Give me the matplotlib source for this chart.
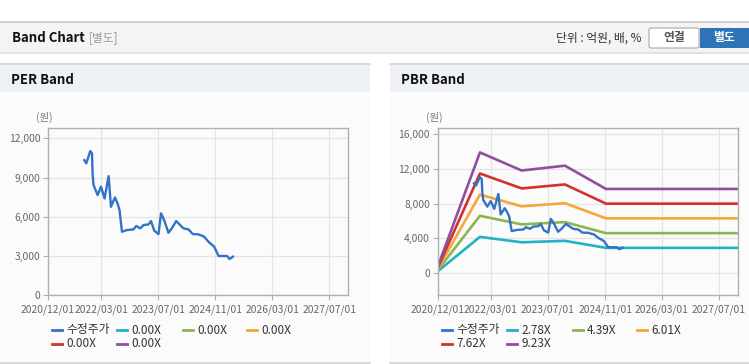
import pandas as pd
import matplotlib
matplotlib.use("Agg")
import matplotlib.pyplot as plt
from matplotlib.patches import Rectangle, FancyBboxPatch
from matplotlib.lines import Line2D

plt.rcParams['font.family'] = ['Noto Sans CJK KR', 'DejaVu Sans']

# ---- data ----
price_dates = ["2021-10-07", "2021-10-24", "2021-11-27", "2021-12-12", "2021-12-17", "2021-12-25",
               "2022-01-29", "2022-02-27", "2022-03-29", "2022-05-03", "2022-05-23", "2022-06-26",
               "2022-07-18", "2022-08-04", "2022-08-25", "2022-10-07", "2022-12-02", "2022-12-25",
               "2023-01-28", "2023-02-25", "2023-04-09", "2023-04-30", "2023-05-28", "2023-07-03",
               "2023-07-25", "2023-08-20", "2023-09-26", "2023-10-25", "2023-12-01", "2024-02-01",
               "2024-03-15", "2024-04-21", "2024-06-08", "2024-07-27", "2024-09-02", "2024-10-21",
               "2024-11-27", "2025-02-07", "2025-03-01", "2025-03-30"]
prices = [10340, 10090, 11030, 10850, 9320, 8430, 7660, 8300, 7400, 9110, 6760, 7480,
          7020, 6510, 4850, 4980, 5030, 5290, 5110, 5360, 5410, 5670, 4930, 4670,
          6260, 5750, 4770, 5110, 5670, 5110, 5030, 4670, 4650, 4470, 4080, 3700,
          2990, 2990, 2760, 2940]

band_dates = ["2020-12-01", "2021-11-27", "2022-11-18", "2023-11-23", "2024-11-08", "2027-12-08"]
band_278 = [222, 4184, 3558, 3725, 2919, 2919]
band_439 = [351, 6607, 5619, 5883, 4610, 4610]
band_601 = [481, 9045, 7693, 8053, 6311, 6311]
band_762 = [610, 11468, 9754, 10211, 8001, 8001]
band_923 = [738, 13891, 11814, 12368, 9692, 9692]

per_labels = ["수정주가", "0.00X", "0.00X", "0.00X", "0.00X", "0.00X"]
pbr_labels = ["수정주가", "2.78X", "4.39X", "6.01X", "7.62X", "9.23X"]
colors = ["#3273c8", "#1fb3c4", "#8db552", "#f5a73a", "#d2312e", "#904f9e"]

tick_dates = ["2020-12-01", "2022-03-01", "2023-07-01", "2024-11-01", "2026-03-01", "2027-07-01"]
tick_labels = ["2020/12/01", "2022/03/01", "2023/07/01", "2024/11/01", "2026/03/01", "2027/07/01"]

W, H = 749, 364
fig = plt.figure(figsize=(W / 100, H / 100), dpi=100)
fig.patch.set_facecolor("white")


def fx(x):
    return x / W


def fy(y):
    return 1 - y / H


def rect(x0, y0, x1, y1, **kw):
    fig.add_artist(Rectangle((fx(x0), fy(y1)), (x1 - x0) / W, (y1 - y0) / H,
                             transform=fig.transFigure, zorder=-2, **kw))


def hline(x0, x1, y, color, lw=1):
    fig.add_artist(Line2D([fx(x0), fx(x1)], [fy(y), fy(y)], transform=fig.transFigure,
                          color=color, lw=lw, zorder=-1))


# top header
rect(0, 22, W, 52, facecolor="#f4f4f4", edgecolor="none")
hline(0, W, 22, "#c8c8c8", 1.2)
hline(0, W, 52.5, "#dcdcdc", 1.2)
fig.text(fx(12), fy(38), "Band Chart", fontsize=9.5, fontweight="bold", color="#111", va="center")
fig.text(fx(89), fy(38), "[별도]", fontsize=8.5, color="#999", va="center")
fig.text(fx(642), fy(38), "단위 : 억원, 배, %", fontsize=8.5, color="#333", va="center", ha="right")
fig.add_artist(FancyBboxPatch((fx(649), fy(48)), 50 / W, 20 / H, boxstyle="round,pad=0,rounding_size=0.004",
                              transform=fig.transFigure, facecolor="white", edgecolor="#aaaaaa", lw=0.8))
fig.text(fx(674), fy(38), "연결", fontsize=8.5, color="#555", fontweight="bold", ha="center", va="center")
rect(700, 28, 749, 48, facecolor="#2f74b6", edgecolor="none")
fig.text(fx(724), fy(38), "별도", fontsize=8.5, color="white", fontweight="bold", ha="center", va="center")

# panels
panels = [(0, 370, "PER Band"), (390, W, "PBR Band")]
for x0, x1, name in panels:
    rect(x0, 63, x1, 92, facecolor="#eef1f6", edgecolor="none")
    rect(x0, 92, x1, 362, facecolor="#fbfbfb", edgecolor="none")
    hline(x0, x1, 63.5, "#d6d6d6", 1.2)
    hline(x0, x1, 362.5, "#d6d6d6", 1.2)
    fig.text(fx(x0 + 11), fy(80), name, fontsize=9.5, fontweight="bold", color="#111", va="center")
    fig.text(fx(x0 + 44), fy(117), "(원)", fontsize=7.5, color="#777", va="center", ha="center")

pd_price = pd.to_datetime(price_dates)
pd_band = pd.to_datetime(band_dates)
pd_ticks = pd.to_datetime(tick_dates)

ax1 = fig.add_axes([fx(48), fy(295), 300 / W, 167 / H])
ax2 = fig.add_axes([fx(437.7), fy(295), 300 / W, 167 / H])

for ax in (ax1, ax2):
    ax.set_facecolor("#fbfbfb")
    ax.set_xlim(pd.Timestamp("2020-12-01"), pd.Timestamp("2027-12-08"))
    ax.set_xticks(pd_ticks)
    ax.set_xticklabels(tick_labels)
    ax.grid(True, color="#e4e4e4", lw=0.9)
    ax.set_axisbelow(True)
    for s in ax.spines.values():
        s.set_color("#b0b0b0")
        s.set_linewidth(1)
    ax.tick_params(axis="both", labelsize=7.4, colors="#b0b0b0", labelcolor="#666", length=3.5, width=0.8)
    ax.tick_params(axis="x", pad=3)
    ax.tick_params(axis="y", pad=2)

# PER band: only price line (bands are 0)
ax1.plot(pd_price, prices, color=colors[0], lw=1.7)
ax1.set_ylim(0, 12800)
ax1.set_yticks([0, 3000, 6000, 9000, 12000])
ax1.set_yticklabels(["0", "3,000", "6,000", "9,000", "12,000"])

# PBR band
ax2.plot(pd_price, prices, color=colors[0], lw=1.7, zorder=3)
for vals, c in zip([band_278, band_439, band_601, band_762, band_923], colors[1:]):
    ax2.plot(pd_band, vals, color=c, lw=1.9, zorder=2)
ax2.set_ylim(-2500, 16700)
ax2.set_yticks([0, 4000, 8000, 12000, 16000])
ax2.set_yticklabels(["0", "4,000", "8,000", "12,000", "16,000"])

# legends
item_x = [52, 117, 183, 247]
for x0, labels in ((0, per_labels), (390, pbr_labels)):
    for i, lab in enumerate(labels):
        lx = x0 + item_x[i % 4]
        ly = 330 if i < 4 else 343.5
        fig.add_artist(Line2D([fx(lx), fx(lx + 10)], [fy(ly), fy(ly)], transform=fig.transFigure,
                              color=colors[i], lw=2))
        fig.text(fx(lx + 14), fy(ly), lab, fontsize=8.5, color="#333", va="center")

fig.savefig("out.png", dpi=100)
